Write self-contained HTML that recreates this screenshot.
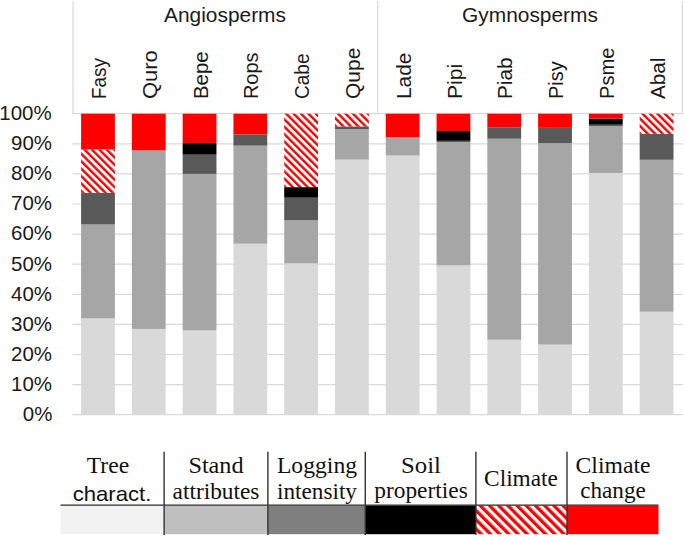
<!DOCTYPE html>
<html><head><meta charset="utf-8"><style>
html,body{margin:0;padding:0;background:#fff;}
body{width:685px;height:537px;overflow:hidden;position:relative;font-family:"Liberation Sans",sans-serif;}
svg{position:absolute;left:0;top:0;}
.t{position:absolute;white-space:nowrap;color:#1a1a1a;font-size:20px;line-height:20px;}
.lg{position:absolute;font-family:"Liberation Serif",serif;font-size:23.4px;line-height:20px;height:20px;color:#111;text-align:center;white-space:nowrap;}
</style></head><body>
<div id="wrap" style="position:absolute;left:0;top:0;width:685px;height:537px;background:#fff">
<svg width="685" height="537" viewBox="0 0 685 537">
<defs><pattern id="hatch" patternUnits="userSpaceOnUse" width="5.25" height="5.25" patternTransform="rotate(-45)"><rect width="5.25" height="5.25" fill="#fff"/><rect x="0" y="0" width="2.4" height="5.25" fill="#ff0000"/></pattern><pattern id="hatch2" patternUnits="userSpaceOnUse" width="5" height="5" patternTransform="rotate(-45)"><rect width="5" height="5" fill="#fff"/><rect x="0" y="0" width="2.8" height="5" fill="#ff0000"/></pattern></defs>
<line x1="72.5" y1="113.70" x2="682.9" y2="113.70" stroke="#d9d9d9" stroke-width="1.2"/>
<line x1="72.5" y1="143.80" x2="682.9" y2="143.80" stroke="#d9d9d9" stroke-width="1.2"/>
<line x1="72.5" y1="173.90" x2="682.9" y2="173.90" stroke="#d9d9d9" stroke-width="1.2"/>
<line x1="72.5" y1="204.00" x2="682.9" y2="204.00" stroke="#d9d9d9" stroke-width="1.2"/>
<line x1="72.5" y1="234.10" x2="682.9" y2="234.10" stroke="#d9d9d9" stroke-width="1.2"/>
<line x1="72.5" y1="264.20" x2="682.9" y2="264.20" stroke="#d9d9d9" stroke-width="1.2"/>
<line x1="72.5" y1="294.30" x2="682.9" y2="294.30" stroke="#d9d9d9" stroke-width="1.2"/>
<line x1="72.5" y1="324.40" x2="682.9" y2="324.40" stroke="#d9d9d9" stroke-width="1.2"/>
<line x1="72.5" y1="354.50" x2="682.9" y2="354.50" stroke="#d9d9d9" stroke-width="1.2"/>
<line x1="72.5" y1="384.60" x2="682.9" y2="384.60" stroke="#d9d9d9" stroke-width="1.2"/>
<line x1="72.5" y1="414.70" x2="682.9" y2="414.70" stroke="#d9d9d9" stroke-width="1.2"/>
<line x1="73.0" y1="1" x2="73.0" y2="113.7" stroke="#d9d9d9" stroke-width="1.2"/>
<line x1="377.7" y1="1" x2="377.7" y2="113.7" stroke="#d9d9d9" stroke-width="1.2"/>
<line x1="682.4" y1="1" x2="682.4" y2="113.7" stroke="#d9d9d9" stroke-width="1.2"/>
<rect x="81.10" y="318.38" width="33.8" height="96.32" fill="#d9d9d9"/>
<rect x="81.10" y="224.47" width="33.8" height="93.91" fill="#a6a6a6"/>
<rect x="81.10" y="192.86" width="33.8" height="31.60" fill="#595959"/>
<rect x="81.10" y="149.52" width="33.8" height="43.34" fill="url(#hatch)"/>
<rect x="81.10" y="113.70" width="33.8" height="35.82" fill="#ff0000"/>
<rect x="131.88" y="328.91" width="33.8" height="85.79" fill="#d9d9d9"/>
<rect x="131.88" y="150.42" width="33.8" height="178.49" fill="#a6a6a6"/>
<rect x="131.88" y="113.70" width="33.8" height="36.72" fill="#ff0000"/>
<rect x="182.66" y="330.42" width="33.8" height="84.28" fill="#d9d9d9"/>
<rect x="182.66" y="173.90" width="33.8" height="156.52" fill="#a6a6a6"/>
<rect x="182.66" y="154.64" width="33.8" height="19.26" fill="#595959"/>
<rect x="182.66" y="143.20" width="33.8" height="11.44" fill="#000000"/>
<rect x="182.66" y="113.70" width="33.8" height="29.50" fill="#ff0000"/>
<rect x="233.44" y="243.73" width="33.8" height="170.97" fill="#d9d9d9"/>
<rect x="233.44" y="145.61" width="33.8" height="98.13" fill="#a6a6a6"/>
<rect x="233.44" y="134.47" width="33.8" height="11.14" fill="#595959"/>
<rect x="233.44" y="113.70" width="33.8" height="20.77" fill="#ff0000"/>
<rect x="284.22" y="263.30" width="33.8" height="151.40" fill="#d9d9d9"/>
<rect x="284.22" y="220.25" width="33.8" height="43.04" fill="#a6a6a6"/>
<rect x="284.22" y="197.68" width="33.8" height="22.57" fill="#595959"/>
<rect x="284.22" y="187.14" width="33.8" height="10.53" fill="#000000"/>
<rect x="284.22" y="113.70" width="33.8" height="73.44" fill="url(#hatch)"/>
<rect x="335.00" y="159.60" width="33.8" height="255.10" fill="#d9d9d9"/>
<rect x="335.00" y="129.20" width="33.8" height="30.40" fill="#a6a6a6"/>
<rect x="335.00" y="126.34" width="33.8" height="2.86" fill="#595959"/>
<rect x="335.00" y="113.70" width="33.8" height="12.64" fill="url(#hatch)"/>
<rect x="385.78" y="155.54" width="33.8" height="259.16" fill="#d9d9d9"/>
<rect x="385.78" y="137.48" width="33.8" height="18.06" fill="#a6a6a6"/>
<rect x="385.78" y="113.70" width="33.8" height="23.78" fill="#ff0000"/>
<rect x="436.56" y="265.40" width="33.8" height="149.30" fill="#d9d9d9"/>
<rect x="436.56" y="141.99" width="33.8" height="123.41" fill="#a6a6a6"/>
<rect x="436.56" y="140.79" width="33.8" height="1.20" fill="#595959"/>
<rect x="436.56" y="131.16" width="33.8" height="9.63" fill="#000000"/>
<rect x="436.56" y="113.70" width="33.8" height="17.46" fill="#ff0000"/>
<rect x="487.34" y="339.75" width="33.8" height="74.95" fill="#d9d9d9"/>
<rect x="487.34" y="138.68" width="33.8" height="201.07" fill="#a6a6a6"/>
<rect x="487.34" y="127.25" width="33.8" height="11.44" fill="#595959"/>
<rect x="487.34" y="113.70" width="33.8" height="13.55" fill="#ff0000"/>
<rect x="538.12" y="344.57" width="33.8" height="70.13" fill="#d9d9d9"/>
<rect x="538.12" y="143.20" width="33.8" height="201.37" fill="#a6a6a6"/>
<rect x="538.12" y="127.85" width="33.8" height="15.35" fill="#595959"/>
<rect x="538.12" y="113.70" width="33.8" height="14.15" fill="#ff0000"/>
<rect x="588.90" y="173.00" width="33.8" height="241.70" fill="#d9d9d9"/>
<rect x="588.90" y="126.04" width="33.8" height="46.96" fill="#a6a6a6"/>
<rect x="588.90" y="124.69" width="33.8" height="1.35" fill="#595959"/>
<rect x="588.90" y="118.67" width="33.8" height="6.02" fill="#000000"/>
<rect x="588.90" y="113.70" width="33.8" height="4.97" fill="#ff0000"/>
<rect x="639.68" y="311.76" width="33.8" height="102.94" fill="#d9d9d9"/>
<rect x="639.68" y="159.75" width="33.8" height="152.00" fill="#a6a6a6"/>
<rect x="639.68" y="133.87" width="33.8" height="25.89" fill="#595959"/>
<rect x="639.68" y="113.70" width="33.8" height="20.17" fill="url(#hatch)"/>
</svg>
<div class="t yl" style="right:633.1px;top:103.0px;text-align:right;font-size:21px;transform:scaleX(0.975);transform-origin:100% 50%">100%</div>
<div class="t yl" style="right:633.1px;top:133.1px;text-align:right;font-size:21px;transform:scaleX(0.975);transform-origin:100% 50%">90%</div>
<div class="t yl" style="right:633.1px;top:163.2px;text-align:right;font-size:21px;transform:scaleX(0.975);transform-origin:100% 50%">80%</div>
<div class="t yl" style="right:633.1px;top:193.3px;text-align:right;font-size:21px;transform:scaleX(0.975);transform-origin:100% 50%">70%</div>
<div class="t yl" style="right:633.1px;top:223.4px;text-align:right;font-size:21px;transform:scaleX(0.975);transform-origin:100% 50%">60%</div>
<div class="t yl" style="right:633.1px;top:253.5px;text-align:right;font-size:21px;transform:scaleX(0.975);transform-origin:100% 50%">50%</div>
<div class="t yl" style="right:633.1px;top:283.6px;text-align:right;font-size:21px;transform:scaleX(0.975);transform-origin:100% 50%">40%</div>
<div class="t yl" style="right:633.1px;top:313.7px;text-align:right;font-size:21px;transform:scaleX(0.975);transform-origin:100% 50%">30%</div>
<div class="t yl" style="right:633.1px;top:343.8px;text-align:right;font-size:21px;transform:scaleX(0.975);transform-origin:100% 50%">20%</div>
<div class="t yl" style="right:633.1px;top:373.9px;text-align:right;font-size:21px;transform:scaleX(0.975);transform-origin:100% 50%">10%</div>
<div class="t yl" style="right:633.1px;top:404.0px;text-align:right;font-size:21px;transform:scaleX(0.975);transform-origin:100% 50%">0%</div>
<div class="t" style="left:72px;width:306px;top:5px;text-align:center;font-size:20.9px">Angiosperms</div>
<div class="t" style="left:377px;width:306px;top:5px;text-align:center;font-size:20.9px">Gymnosperms</div>
<div class="t rn" style="left:89.1px;top:99.4px;transform:rotate(-90deg) scaleX(0.944);transform-origin:0 0;">Fasy</div>
<div class="t rn" style="left:139.9px;top:99.4px;transform:rotate(-90deg) scaleX(1.095);transform-origin:0 0;">Quro</div>
<div class="t rn" style="left:190.6px;top:99.4px;transform:rotate(-90deg) scaleX(1.020);transform-origin:0 0;">Bepe</div>
<div class="t rn" style="left:241.4px;top:99.4px;transform:rotate(-90deg) scaleX(0.995);transform-origin:0 0;">Rops</div>
<div class="t rn" style="left:292.2px;top:99.4px;transform:rotate(-90deg) scaleX(0.952);transform-origin:0 0;">Cabe</div>
<div class="t rn" style="left:343.0px;top:99.4px;transform:rotate(-90deg) scaleX(1.049);transform-origin:0 0;">Qupe</div>
<div class="t rn" style="left:393.8px;top:99.4px;transform:rotate(-90deg) scaleX(1.041);transform-origin:0 0;">Lade</div>
<div class="t rn" style="left:444.6px;top:99.4px;transform:rotate(-90deg) scaleX(1.057);transform-origin:0 0;">Pipi</div>
<div class="t rn" style="left:495.3px;top:99.4px;transform:rotate(-90deg) scaleX(1.035);transform-origin:0 0;">Piab</div>
<div class="t rn" style="left:546.1px;top:99.4px;transform:rotate(-90deg) scaleX(1.000);transform-origin:0 0;">Pisy</div>
<div class="t rn" style="left:596.9px;top:99.4px;transform:rotate(-90deg) scaleX(1.006);transform-origin:0 0;">Psme</div>
<div class="t rn" style="left:647.7px;top:99.4px;transform:rotate(-90deg) scaleX(1.035);transform-origin:0 0;">Abal</div>
<svg width="685" height="537" viewBox="0 0 685 537" style="position:absolute;left:0;top:0"><defs><pattern id="hatch3" patternUnits="userSpaceOnUse" width="6.5" height="6.5" patternTransform="rotate(-45)"><rect width="6.5" height="6.5" fill="#fff"/><rect x="0" y="0" width="3.3" height="6.5" fill="#ff0000"/></pattern></defs><rect x="60.5" y="505.5" width="103.5" height="28.7" fill="#f2f2f2"/><rect x="164" y="505.5" width="104" height="28.7" fill="#bfbfbf"/><rect x="268" y="505.5" width="97.5" height="28.7" fill="#7f7f7f"/><rect x="365.5" y="505.5" width="110.5" height="28.7" fill="#000"/><rect x="476" y="505.5" width="91" height="28.7" fill="url(#hatch3)"/><rect x="567" y="505.5" width="91.5" height="28.7" fill="#ff0000"/><line x1="60.5" y1="505.1" x2="658.5" y2="505.1" stroke="#2a2a2a" stroke-width="1.4"/><line x1="164.1" y1="451.7" x2="164.1" y2="535.0" stroke="#333" stroke-width="1.4"/><line x1="267.9" y1="451.7" x2="267.9" y2="535.0" stroke="#333" stroke-width="1.4"/><line x1="365.3" y1="451.7" x2="365.3" y2="535.0" stroke="#333" stroke-width="1.4"/><line x1="475.9" y1="451.7" x2="475.9" y2="535.0" stroke="#333" stroke-width="1.4"/><line x1="567.0" y1="451.7" x2="567.0" y2="535.0" stroke="#333" stroke-width="1.4"/></svg><div class="lg" style="left:8.40px;width:200px;top:455.10px;transform:scaleX(1.012);">Tree</div>
<div class="lg" style="left:11.55px;width:200px;top:483.69px;font-family:'Liberation Sans',sans-serif;font-size:20.8px;transform:scaleX(1.064);">charact.</div>
<div class="lg" style="left:115.70px;width:200px;top:455.20px;transform:scaleX(1.036);">Stand</div>
<div class="lg" style="left:115.95px;width:200px;top:480.60px;transform:scaleX(0.998);">attributes</div>
<div class="lg" style="left:216.90px;width:200px;top:455.20px;transform:scaleX(1.011);">Logging</div>
<div class="lg" style="left:217.25px;width:200px;top:481.00px;transform:scaleX(0.992);">intensity</div>
<div class="lg" style="left:320.60px;width:200px;top:454.60px;transform:scaleX(1.058);">Soil</div>
<div class="lg" style="left:320.60px;width:200px;top:480.30px;transform:scaleX(1.001);">properties</div>
<div class="lg" style="left:421.25px;width:200px;top:467.70px;transform:scaleX(0.996);">Climate</div>
<div class="lg" style="left:512.75px;width:200px;top:455.00px;transform:scaleX(1.012);">Climate</div>
<div class="lg" style="left:512.60px;width:200px;top:479.60px;transform:scaleX(0.990);">change</div>
</div></body></html>
